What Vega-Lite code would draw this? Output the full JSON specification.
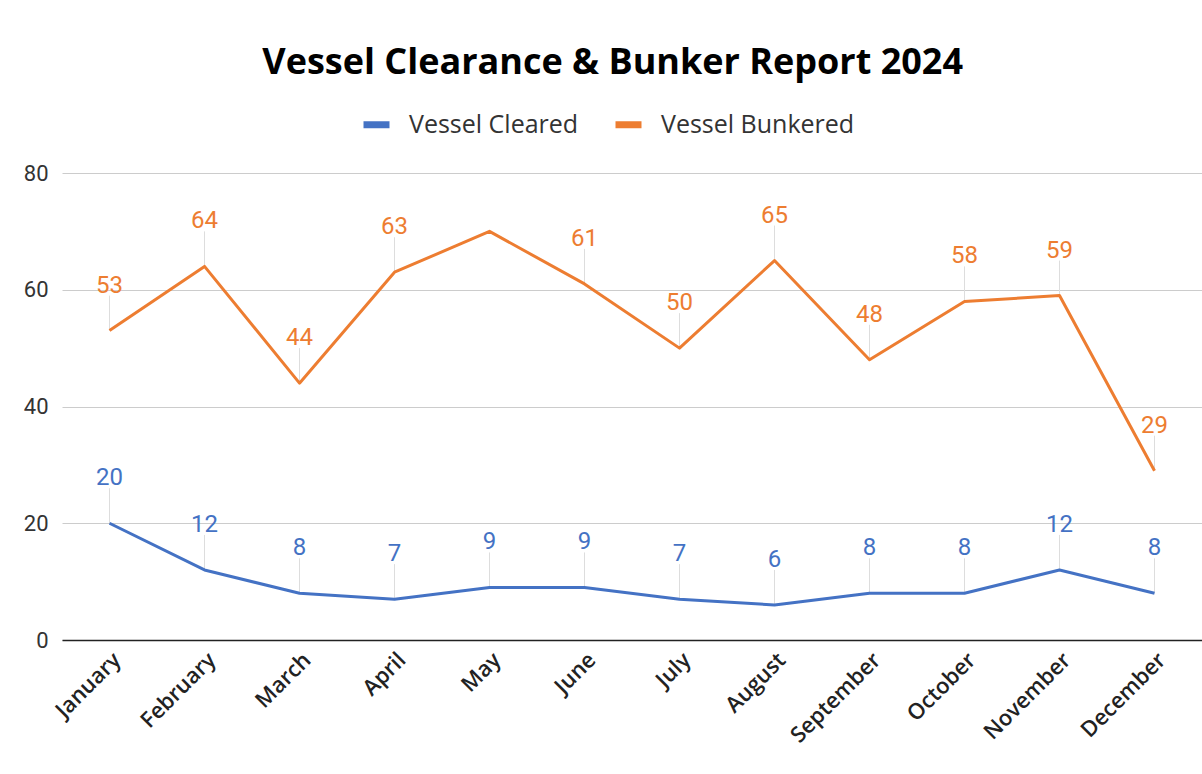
{
  "$schema": "https://vega.github.io/schema/vega-lite/v6.json",
  "width": 1140,
  "height": 467,
  "autosize": {"type": "none"},
  "padding": {"left": 62, "top": 173, "right": 0, "bottom": 134},
  "background": "white",
  "title": {
    "text": "Vessel Clearance & Bunker Report 2024",
    "font": "Open Sans",
    "fontSize": 36,
    "fontWeight": "bold",
    "color": "#000000",
    "anchor": "middle",
    "frame": "bounds",
    "offset": 26
  },
  "config": {
    "view": {"stroke": null},
    "axis": {"titleFont": "Roboto"}
  },
  "data": {
    "values": [
      {"month": "January", "series": "Vessel Cleared", "value": 20},
      {"month": "February", "series": "Vessel Cleared", "value": 12},
      {"month": "March", "series": "Vessel Cleared", "value": 8},
      {"month": "April", "series": "Vessel Cleared", "value": 7},
      {"month": "May", "series": "Vessel Cleared", "value": 9},
      {"month": "June", "series": "Vessel Cleared", "value": 9},
      {"month": "July", "series": "Vessel Cleared", "value": 7},
      {"month": "August", "series": "Vessel Cleared", "value": 6},
      {"month": "September", "series": "Vessel Cleared", "value": 8},
      {"month": "October", "series": "Vessel Cleared", "value": 8},
      {"month": "November", "series": "Vessel Cleared", "value": 12},
      {"month": "December", "series": "Vessel Cleared", "value": 8},
      {"month": "January", "series": "Vessel Bunkered", "value": 53},
      {"month": "February", "series": "Vessel Bunkered", "value": 64},
      {"month": "March", "series": "Vessel Bunkered", "value": 44},
      {"month": "April", "series": "Vessel Bunkered", "value": 63},
      {"month": "May", "series": "Vessel Bunkered", "value": 70},
      {"month": "June", "series": "Vessel Bunkered", "value": 61},
      {"month": "July", "series": "Vessel Bunkered", "value": 50},
      {"month": "August", "series": "Vessel Bunkered", "value": 65},
      {"month": "September", "series": "Vessel Bunkered", "value": 48},
      {"month": "October", "series": "Vessel Bunkered", "value": 58},
      {"month": "November", "series": "Vessel Bunkered", "value": 59},
      {"month": "December", "series": "Vessel Bunkered", "value": 29}
    ]
  },
  "encoding": {
    "x": {
      "field": "month",
      "type": "ordinal",
      "sort": ["January", "February", "March", "April", "May", "June", "July", "August", "September", "October", "November", "December"],
      "scale": {"type": "point", "padding": 0.5},
      "axis": {
        "title": null,
        "ticks": false,
        "grid": false,
        "domainColor": "#222222",
        "domainWidth": 1.5,
        "labelFont": "Open Sans",
        "labelFontWeight": 600,
        "labelFontSize": 22,
        "labelColor": "#222222",
        "labelAngle": -45,
        "labelAlign": "right",
        "labelBaseline": "top",
        "labelPadding": 9,
        "labelLimit": 0,
        "zindex": 1
      }
    },
    "y": {
      "field": "value",
      "type": "quantitative",
      "scale": {"domain": [0, 80], "nice": false},
      "axis": {
        "title": null,
        "values": [0, 20, 40, 60, 80],
        "domain": false,
        "ticks": false,
        "gridColor": "#cccccc",
        "gridWidth": 1,
        "labelFont": "Roboto",
        "labelFontSize": 22,
        "labelColor": "#333333",
        "labelPadding": 14
      }
    }
  },
  "layer": [
    {
      "transform": [{"filter": "!(datum.month === 'May' && datum.series === 'Vessel Bunkered')"}],
      "mark": {"type": "rule", "color": "#dddddd", "strokeWidth": 1, "y2Offset": -35},
      "encoding": {
        "y2": {"field": "value"}
      }
    },
    {
      "mark": {"type": "line", "strokeWidth": 3, "strokeJoin": "round"},
      "encoding": {
        "color": {
          "field": "series",
          "type": "nominal",
          "scale": {"domain": ["Vessel Cleared", "Vessel Bunkered"], "range": ["#4472C4", "#ED7D31"]},
          "legend": {
            "title": null,
            "orient": "none",
            "legendX": 298,
            "legendY": -65,
            "direction": "horizontal",
            "symbolType": "stroke",
            "symbolSize": 676,
            "symbolStrokeWidth": 7,
            "labelFont": "Open Sans",
            "labelFontSize": 25,
            "labelColor": "#333333",
            "labelOffset": 16,
            "labelLimit": 0,
            "columnPadding": 22,
            "padding": 0
          }
        }
      }
    },
    {
      "transform": [{"filter": "!(datum.month === 'May' && datum.series === 'Vessel Bunkered')"}],
      "mark": {"type": "text", "font": "Roboto", "fontSize": 24, "baseline": "alphabetic", "dy": -38},
      "encoding": {
        "text": {"field": "value", "type": "quantitative"},
        "color": {"field": "series", "type": "nominal", "legend": null}
      }
    }
  ]
}
